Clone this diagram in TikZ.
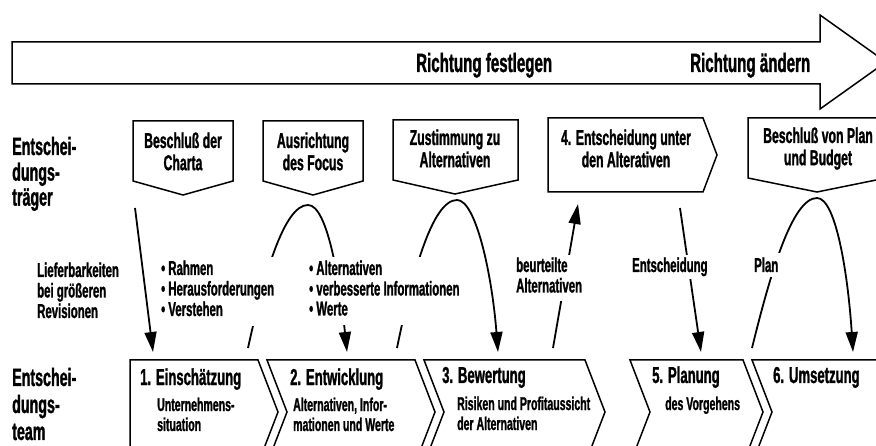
\documentclass[tikz,border=0pt]{standalone}
\usepackage{fontspec}
\setmainfont{Liberation Sans}[FakeStretch=0.57, FakeBold=1.2]
\usetikzlibrary{arrows.meta}
\newcommand{\fsz}[2]{\fontsize{#1}{#2}\selectfont\bfseries}
\newcommand{\mlL}[1]{\begin{tabular}[t]{@{}l@{}}#1\end{tabular}}
\newcommand{\mlC}[1]{\begin{tabular}[t]{@{}c@{}}#1\end{tabular}}
\begin{document}
\begin{tikzpicture}[x=1pt,y=-1pt,
  shapeline/.style={line width=1.5pt, line join=miter},
  flow/.style={line width=1.8pt, -{Triangle[length=20pt,width=12pt]}},
  txt/.style={inner sep=0pt, anchor=base west},
  ctxt/.style={inner sep=0pt, anchor=base},
  gap/.style={fill=white, inner sep=4pt, anchor=base west},
  rowlab/.style={txt, font=\fsz{25}{25}},
  teamlab/.style={txt, font=\fsz{25}{27}},
  boxlab/.style={ctxt, font=\fsz{21.5}{22}},
  chevtitle/.style={txt, font=\fsz{23}{24}},
  chevsub/.style={txt, font=\fsz{18.5}{20}},
  midlab/.style={gap, font=\fsz{20}{20}},
]
\useasboundingbox (0,0) rectangle (876,446);
\clip (0,0) rectangle (876,446);

% big direction arrow
\draw[shapeline] (12,42) -- (820,42) -- (820,15) -- (886,62) -- (820,109) -- (820,84) -- (12,84) -- cycle;
\node[txt, font=\fsz{26.5}{26}] (rfest) at (416,72) {Richtung festlegen};
\node[txt, font=\fsz{26.5}{26}] (raend) at (690,72) {Richtung ändern};

% top boxes (Entscheidungsträger)
\draw[shapeline] (133,121) -- (233,121) -- (233,181) -- (183,195) -- (133,181) -- cycle;
\draw[shapeline] (263,121) -- (363,121) -- (363,181) -- (313,195) -- (263,181) -- cycle;
\draw[shapeline] (393,120) -- (518,120) -- (518,180) -- (455,194) -- (393,180) -- cycle;
\draw[shapeline] (548,118) -- (703,118) -- (717,155) -- (703,192) -- (548,192) -- cycle;
\draw[shapeline] (748,118) -- (886,118) -- (886,178) -- (817,192) -- (748,178) -- cycle;

% bottom chevrons (Entscheidungsteam)
\draw[shapeline] (130,455) -- (130,360) -- (258,360) -- (278,412) -- (262.6,452);
\draw[shapeline] (271.6,452) -- (287,412) -- (267,360) -- (415,360) -- (435,412) -- (419.6,452);
\draw[shapeline] (428.6,452) -- (444,412) -- (424,360) -- (585,360) -- (605,412) -- (589.6,452);
\draw[shapeline] (634.6,452) -- (650,412) -- (630,360) -- (743,360) -- (763,412) -- (747.6,452);
\draw[shapeline] (756.6,452) -- (772,412) -- (752,360) -- (900,360);

% connector end points
\coordinate (a1s) at (135,208);  \coordinate (a1e) at (153,352);
\coordinate (b1s) at (248,348);  \coordinate (b1t) at (308,205); \coordinate (b1e) at (347,352);
\coordinate (b2s) at (397,348);  \coordinate (b2t) at (457,200); \coordinate (b2e) at (498,352);
\coordinate (upS) at (553,348);  \coordinate (upE) at (578,204);
\coordinate (dnS) at (680,208);  \coordinate (dnE) at (701,352);
\coordinate (b3s) at (752,348);  \coordinate (b3t) at (817,198); \coordinate (b3e) at (853,352);

% connectors
\draw[flow] (a1s) -- (a1e);
\draw[flow] (b1s) .. controls (264,275) and (284,205) .. (b1t) .. controls (328,205) and (340,285) .. (b1e);
\draw[flow] (b2s) .. controls (412,275) and (432,200) .. (b2t) .. controls (476,200) and (492,275) .. (b2e);
\draw[flow] (upS) -- (upE);
\draw[flow] (dnS) -- (dnE);
\draw[flow] (b3s) .. controls (770,275) and (792,198) .. (b3t) .. controls (836,198) and (848,275) .. (b3e);

% row labels
\node[rowlab] (trg) at (12,155) {\mlL{Entschei-\\dungs-\\träger}};
\node[teamlab] (team) at (12,386) {\mlL{Entschei-\\dungs-\\team}};

% box labels
\node[boxlab] (k1) at (183,148) {\mlC{Beschluß der\\Charta}};
\node[boxlab] (k2) at (313,148) {\mlC{Ausrichtung\\des Focus}};
\node[boxlab] (k3) at (455,145) {\mlC{Zustimmung zu\\Alternativen}};
\node[boxlab] (k4) at (626,145) {\mlC{4. Entscheidung unter\\den Alterativen}};
\node[boxlab] (k5) at (818,143) {\mlC{Beschluß von Plan\\und Budget}};

% middle labels (white background makes the gaps in the connectors)
\node[midlab, fill=none] (lief) at (33,277) {\mlL{Lieferbarkeiten\\bei größeren\\Revisionen}};
\node[midlab] (bul1) at (157,275) {\mlL{• Rahmen\\• Herausforderungen\\• Verstehen}};
\node[midlab] (bul2) at (305,275) {\mlL{• Alternativen\\• verbesserte Informationen\\• Werte}};
\node[midlab, inner sep=3pt] (beurt) at (513,272) {\mlL{beurteilte\\Alternativen}};
\node[midlab, inner sep=3pt] (entsch) at (629,272) {Entscheidung};
\node[midlab, inner xsep=9pt, inner ysep=5pt] (plan) at (745,272) {Plan};

% chevron labels
\node[chevtitle] (c1) at (140,385) {1. Einschätzung};
\node[chevsub] (c1s) at (157,411) {\mlL{Unternehmens-\\situation}};
\node[chevtitle] (c2) at (290,385) {2. Entwicklung};
\node[chevsub] (c2s) at (293,411) {\mlL{Alternativen, Infor-\\mationen und Werte}};
\node[chevtitle] (c3) at (442,383) {3. Bewertung};
\node[chevsub] (c3s) at (457,410) {\mlL{Risiken und Profitaussicht\\der Alternativen}};
\node[chevtitle] (c5) at (652,383) {5. Planung};
\node[chevsub] (c5s) at (665,410) {des Vorgehens};
\node[chevtitle] (c6) at (773,383) {6. Umsetzung};
\end{tikzpicture}
\end{document}
